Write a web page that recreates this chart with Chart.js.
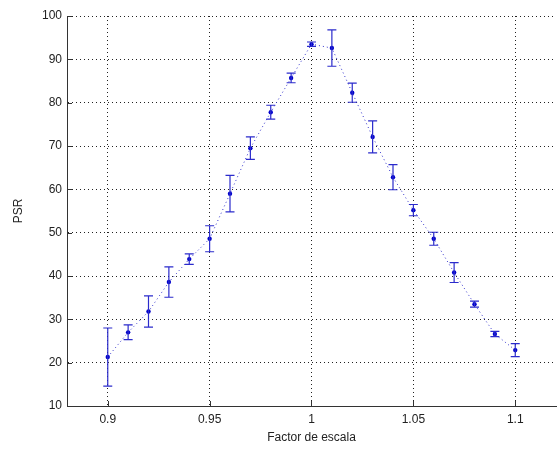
<!DOCTYPE html>
<html>
<head>
<meta charset="utf-8">
<script src="https://cdn.jsdelivr.net/npm/chart.js@4.4.0/dist/chart.umd.min.js"></script>
<style>
  html, body { margin: 0; padding: 0; background: #fff; overflow: hidden; }
  #wrap { width: 557px; height: 450px; position: relative; }
</style>
</head>
<body>
<div id="wrap"><canvas id="chart"></canvas></div>
<script>
// Datos del gráfico
const factores = [0.90, 0.91, 0.92, 0.93, 0.94, 0.95, 0.96, 0.97, 0.98, 0.99, 1.00,
                  1.01, 1.02, 1.03, 1.04, 1.05, 1.06, 1.07, 1.08, 1.09, 1.10];
const psr = [21.3, 27.0, 31.8, 38.6, 43.9, 48.6, 59.0, 69.5, 77.8, 85.7, 93.5,
             92.6, 82.3, 72.1, 62.8, 55.2, 48.6, 40.8, 33.5, 26.6, 22.9];
const errores = [6.7, 1.7, 3.6, 3.5, 1.2, 3.0, 4.2, 2.6, 1.6, 1.1, 0.5,
                 4.2, 2.2, 3.7, 2.9, 1.3, 1.5, 2.3, 0.7, 0.6, 1.5];
const xTicks = [0.9, 0.95, 1, 1.05, 1.1];
const yTicks = [10, 20, 30, 40, 50, 60, 70, 80, 90, 100];

const puntos = factores.map((x, i) => ({ x: x, y: psr[i] }));

// Barras de error y marcas de los ejes (hacia dentro, estilo MATLAB)
const errorBarsPlugin = {
    id: 'errorBars',
    afterDatasetsDraw(chart) {
        const ctx = chart.ctx;
        const xs = chart.scales.x;
        const ys = chart.scales.y;
        const area = chart.chartArea;
        ctx.save();
        ctx.strokeStyle = '#2b2bcc';
        ctx.lineWidth = 1.2;
        factores.forEach((f, i) => {
            const px = xs.getPixelForValue(f);
            const top = ys.getPixelForValue(psr[i] + errores[i]);
            const bot = ys.getPixelForValue(psr[i] - errores[i]);
            ctx.beginPath();
            ctx.moveTo(px, top); ctx.lineTo(px, bot);
            ctx.moveTo(px - 4.5, top); ctx.lineTo(px + 4.5, top);
            ctx.moveTo(px - 4.5, bot); ctx.lineTo(px + 4.5, bot);
            ctx.stroke();
        });
        // marcas
        ctx.strokeStyle = '#333';
        ctx.lineWidth = 1;
        ctx.beginPath();
        xTicks.forEach(v => {
            const px = Math.round(xs.getPixelForValue(v)) + 0.5;
            ctx.moveTo(px, area.bottom); ctx.lineTo(px, area.bottom - 5);
        });
        yTicks.forEach(v => {
            const py = Math.round(ys.getPixelForValue(v)) + 0.5;
            ctx.moveTo(area.left, py); ctx.lineTo(area.left + 5, py);
        });
        ctx.stroke();
        ctx.restore();
    }
};

const config = {
    type: 'scatter',
    data: {
        datasets: [{
            data: puntos,
            showLine: true,
            borderColor: '#3333cc',
            borderWidth: 1,
            borderDash: [1, 3],
            backgroundColor: '#0000cc',
            pointBackgroundColor: '#0000cc',
            pointBorderColor: '#0000cc',
            pointRadius: 2.2,
            pointBorderWidth: 0
        }]
    },
    options: {
        responsive: true,
        maintainAspectRatio: false,
        animation: false,
        layout: { autoPadding: false, padding: { top: 16, right: 1, left: 0, bottom: 0 } },
        plugins: {
            legend: { display: false },
            tooltip: { enabled: false }
        },
        scales: {
            x: {
                type: 'linear',
                min: 0.88,
                max: 1.12,
                afterBuildTicks: (scale) => { scale.ticks = xTicks.map(v => ({ value: v })); },
                afterFit: (scale) => {
                    scale.height = 44;
                    scale.paddingLeft = 0;
                    scale.paddingRight = 0;
                },
                ticks: {
                    color: '#222',
                    font: { family: 'Liberation Sans, Arial', size: 12 },
                    padding: 6,
                    maxRotation: 0,
                    callback: (v) => String(v)
                },
                grid: {
                    color: '#222',
                    lineWidth: 1,
                    drawTicks: false
                },
                border: { display: true, color: '#333', width: 1, dash: [1, 3] },
                title: {
                    display: true,
                    text: 'Factor de escala',
                    color: '#222',
                    font: { family: 'Liberation Sans, Arial', size: 12 },
                    padding: { top: 0, bottom: 5 }
                }
            },
            y: {
                min: 10,
                max: 100,
                afterBuildTicks: (scale) => { scale.ticks = yTicks.map(v => ({ value: v })); },
                afterFit: (scale) => {
                    scale.width = 67;
                    scale.paddingTop = 0;
                    scale.paddingBottom = 0;
                },
                ticks: {
                    color: '#222',
                    font: { family: 'Liberation Sans, Arial', size: 12 },
                    padding: 5
                },
                grid: {
                    color: '#222',
                    lineWidth: 1,
                    drawTicks: false
                },
                border: { display: true, color: '#333', width: 1, dash: [1, 3] },
                title: {
                    display: true,
                    text: 'PSR',
                    color: '#222',
                    font: { family: 'Liberation Sans, Arial', size: 12 },
                    padding: { top: 11, bottom: 0 }
                }
            }
        }
    },
    plugins: [errorBarsPlugin]
};

new Chart(document.getElementById('chart'), config);
</script>
</body>
</html>
